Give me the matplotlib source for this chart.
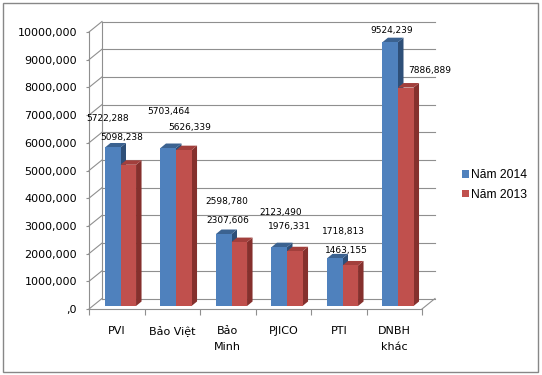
import matplotlib
matplotlib.use("Agg")
from matplotlib import pyplot as plt
from matplotlib.patches import Polygon, Patch, Rectangle

# data
categories = ["PVI", "Bảo Việt", "Bảo\nMinh", "PJICO", "PTI", "DNBH\nkhác"]
nam_2014 = [5722.288, 5703.464, 2598.780, 2123.490, 1718.813, 9524.239]
nam_2013 = [5098.238, 5626.339, 2307.606, 1976.331, 1463.155, 7886.889]
labels_2014 = ["5722,288", "5703,464", "2598,780", "2123,490", "1718,813", "9524,239"]
labels_2013 = ["5098,238", "5626,339", "2307,606", "1976,331", "1463,155", "7886,889"]
y_ticks = [0, 1000, 2000, 3000, 4000, 5000, 6000, 7000, 8000, 9000, 10000]
y_tick_labels = [",0", "1000,000", "2000,000", "3000,000", "4000,000", "5000,000",
                 "6000,000", "7000,000", "8000,000", "9000,000", "10000,000"]
series_names = ["Năm 2014", "Năm 2013"]

# where excel put the data labels, in pixels from the top of each bar
nudge_2014 = [(-5, 29), (0, 37), (3, 33), (1, 35), (9, 27), (1, 12)]
nudge_2013 = [(-7, 27), (6, 23), (-11, 22), (-5, 25), (-4, 15), (24, 17)]

W, H = 542, 375
fig = plt.figure(figsize=(W / 100, H / 100), dpi=100)
fig.patch.set_facecolor("white")

# front plane of the 3d box, in pixels
left, right, bottom, top = 89, 422, 309, 32
ax = fig.add_axes([left / W, 1 - bottom / H, (right - left) / W, (bottom - top) / H])
ax.set_xlim(0, len(categories))
ax.set_ylim(0, 10000)
ax.patch.set_alpha(0)

ux = len(categories) / (right - left)   # data units per pixel
uy = 10000 / (bottom - top)

grid = "#8f8f8f"
wdx, wdy = 13 * ux, 10.5 * uy          # wall depth
bdx, bdy = 5.5 * ux, 4.5 * uy          # bar depth
sx, sy = (wdx - bdx) / 2, (wdy - bdy) / 2

n = len(categories)
# back wall, side wall and floor
for t in y_ticks:
    ax.plot([wdx, n + wdx], [t + wdy, t + wdy], color=grid, lw=0.8, clip_on=False, zorder=1)
    ax.plot([0, wdx], [t, t + wdy], color=grid, lw=0.8, clip_on=False, zorder=1)
ax.plot([wdx, wdx], [wdy, 10000 + wdy], color=grid, lw=0.8, clip_on=False, zorder=1)
ax.plot([n, n + wdx], [0, wdy], color=grid, lw=0.8, clip_on=False, zorder=1)

colors = [("#4f81bd", "#3b6290", "#2e4f78"), ("#c0504d", "#a23f3c", "#85302d")]
bw = 0.28
for i in range(n):
    for s, vals in enumerate([nam_2014, nam_2013]):
        v = vals[i]
        x0 = i + 0.5 - bw + s * bw + sx
        x1 = x0 + bw
        y0, y1 = sy, v + sy
        front, topc, side = colors[s]
        ax.add_patch(Polygon([(x1, y0), (x1, y1), (x1 + bdx, y1 + bdy), (x1 + bdx, y0 + bdy)],
                             facecolor=side, edgecolor="none", zorder=2 + i + s * 0.1, clip_on=False))
        ax.add_patch(Polygon([(x0, y1), (x1, y1), (x1 + bdx, y1 + bdy), (x0 + bdx, y1 + bdy)],
                             facecolor=topc, edgecolor="none", zorder=2 + i + s * 0.1, clip_on=False))
        ax.add_patch(Rectangle((x0, y0), bw, v, facecolor=front, edgecolor="none",
                               zorder=2.05 + i + s * 0.1, clip_on=False))

# data labels
for i in range(n):
    xb = i + 0.5 - bw / 2 + sx
    xr = i + 0.5 + bw / 2 + sx
    ax.text(xb + nudge_2014[i][0] * ux, nam_2014[i] + sy + nudge_2014[i][1] * uy, labels_2014[i],
            ha="center", va="center", fontsize=6.5, zorder=20)
    ax.text(xr + nudge_2013[i][0] * ux, nam_2013[i] + sy + nudge_2013[i][1] * uy, labels_2013[i],
            ha="center", va="center", fontsize=6.5, zorder=20)

for side_name in ["top", "right"]:
    ax.spines[side_name].set_visible(False)
for side_name in ["left", "bottom"]:
    ax.spines[side_name].set_color(grid)
    ax.spines[side_name].set_linewidth(0.8)

ax.set_yticks(y_ticks)
ax.set_yticklabels(y_tick_labels, fontsize=8)
ax.tick_params(axis="y", length=2.2, color=grid, pad=6.5)

ax.set_xticks(range(n + 1))
ax.set_xticklabels([""] * (n + 1))
ax.tick_params(axis="x", which="major", length=4, color=grid)
ax.set_xticks([i + 0.5 for i in range(n)], minor=True)
ax.set_xticklabels(categories, minor=True, fontsize=8, linespacing=1.65)
ax.tick_params(axis="x", which="minor", length=0, pad=12.5)

handles = [Patch(facecolor=colors[0][0]), Patch(facecolor=colors[1][0])]
fig.legend(handles, series_names, loc="center left", bbox_to_anchor=(451 / W, 1 - 185 / H),
           frameon=False, prop={"family": "Liberation Sans", "size": 8.7},
           handlelength=0.6, handleheight=0.6, handletextpad=0.15, labelspacing=0.6)

fig.patches.append(Rectangle((3 / W, 3 / H), 535 / W, 369 / H, transform=fig.transFigure,
                             fill=False, edgecolor="#878787", lw=1))

fig.savefig("out.png", dpi=100)
